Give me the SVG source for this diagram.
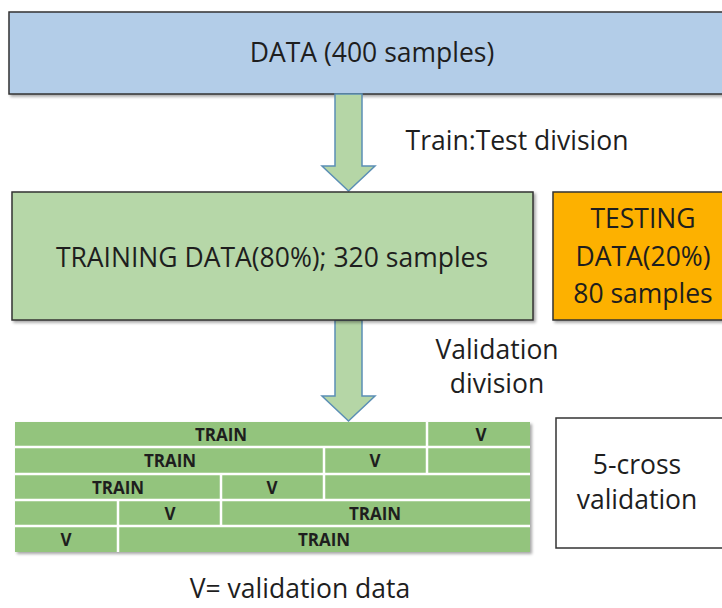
<svg xmlns="http://www.w3.org/2000/svg" width="722" height="608" viewBox="0 0 722 608">
<defs>
<style>
.t{font-family:"Open Sans","Liberation Sans",sans-serif;fill:#1e1e1e;text-anchor:middle;font-size:26.5px}
.cell{font-family:"Open Sans","Liberation Sans",sans-serif;font-size:17px;font-weight:bold;fill:#1e1e1e;text-anchor:middle}
.box{stroke:#333;stroke-width:1.5}
.arrow{fill:#b5d6a6;stroke:#5b8fb5;stroke-width:1.5}
.sep{stroke:#fff;stroke-width:2.5}
</style>
<filter id="sh" x="-5%" y="-5%" width="115%" height="120%">
<feDropShadow dx="2" dy="2" stdDeviation="1.5" flood-color="#000" flood-opacity="0.35"/>
</filter>
</defs>
<rect width="722" height="608" fill="#fff"/>

<g id="data">
<rect class="box" x="9" y="12" width="716" height="82" fill="#b3cde8" filter="url(#sh)"/>
<text class="t" x="372" y="62">DATA (400 samples)</text>
</g>

<g id="connectors">
<path class="arrow" d="M335,94 L362,94 L362,166 L375,166 L348.5,191 L322,166 L335,166 Z"/>
<text class="t" x="517" y="150">Train:Test division</text>
<path class="arrow" d="M335,320 L362,320 L362,396 L375,396 L348.5,421 L322,396 L335,396 Z"/>
<text class="t" x="497" y="359">Validation</text>
<text class="t" x="497" y="393">division</text>
</g>

<g id="training">
<rect class="box" x="12" y="192" width="521" height="128" fill="#b6d7a8" filter="url(#sh)"/>
<text class="t" x="272" y="267">TRAINING DATA(80%); 320 samples</text>
</g>

<g id="testing">
<rect class="box" x="553" y="192" width="172" height="128" fill="#fdb100" filter="url(#sh)"/>
<text class="t" x="643" y="228">TESTING</text>
<text class="t" x="643" y="266">DATA(20%)</text>
<text class="t" x="643" y="303">80 samples</text>
</g>

<g id="folds">
<rect x="15" y="422" width="515" height="130" fill="#93c47d" filter="url(#sh)"/>
<g class="sep">
<line x1="15" y1="447" x2="530" y2="447"/>
<line x1="15" y1="474" x2="530" y2="474"/>
<line x1="15" y1="500" x2="530" y2="500"/>
<line x1="15" y1="526" x2="530" y2="526"/>
<line x1="427" y1="422" x2="427" y2="474"/>
<line x1="324" y1="447" x2="324" y2="500"/>
<line x1="221" y1="474" x2="221" y2="526"/>
<line x1="118" y1="500" x2="118" y2="552"/>
</g>
<text class="cell" x="221" y="441">TRAIN</text>
<text class="cell" x="481" y="441">V</text>
<text class="cell" x="170" y="467">TRAIN</text>
<text class="cell" x="375" y="467">V</text>
<text class="cell" x="118" y="494">TRAIN</text>
<text class="cell" x="272" y="494">V</text>
<text class="cell" x="170" y="520">V</text>
<text class="cell" x="375" y="520">TRAIN</text>
<text class="cell" x="66" y="546">V</text>
<text class="cell" x="324" y="546">TRAIN</text>
</g>

<g id="crossval">
<rect class="box" x="556" y="418" width="170" height="130" fill="#fff"/>
<text class="t" x="637" y="474">5-cross</text>
<text class="t" x="637" y="509">validation</text>
</g>

<g id="legend">
<text class="t" x="300" y="598">V= validation data</text>
</g>
</svg>
